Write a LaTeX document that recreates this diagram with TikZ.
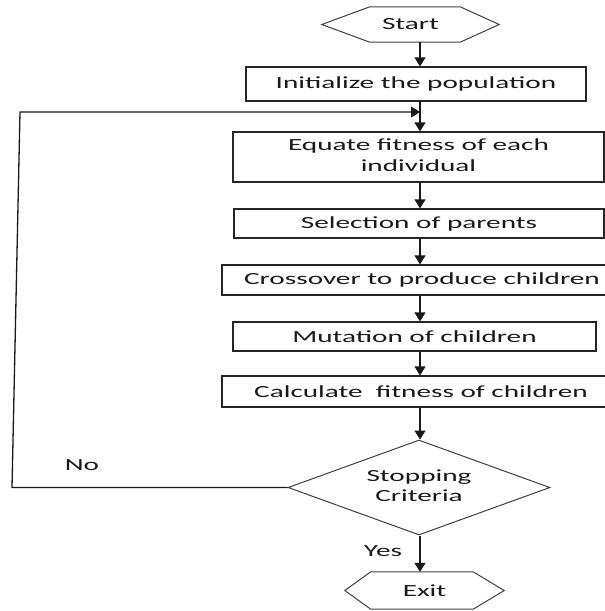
\documentclass[tikz,border=0pt]{standalone}
\usepackage{fontspec}
\usepackage{graphicx}
\setmainfont{Carlito}
\usetikzlibrary{shapes.geometric,arrows.meta}
\newcommand\wtext[1]{\scalebox{1.72}[1]{#1}}
\begin{document}
\begin{tikzpicture}[x=1pt,y=1pt,
  every node/.style={font=\fontsize{17}{20.7}\selectfont, text=black!90},
  procbox/.style={draw=black!85, line width=1.2pt, rectangle, inner sep=0pt},
  decbox/.style={draw=black!75, line width=1pt, diamond, aspect=2.76, inner sep=0pt, minimum width=262pt, minimum height=95pt},
  termbox/.style={inner sep=0pt},
  hexline/.style={draw=black!75, line width=1pt},
  arr/.style={line width=1.3pt, draw=black!90, -{Triangle[width=11pt,length=9pt]}},
  loopline/.style={line width=1.3pt, draw=black!90}
]
\useasboundingbox (0,0) rectangle (605,-611);
\coordinate (spine) at (420,0);

% terminals
\node[termbox, minimum width=177pt, minimum height=35pt] (start) at (410.5,-24.5) {\wtext{Start}};
\draw[hexline] (start.west) -- ([xshift=48pt]start.north west) -- ([xshift=-39pt]start.north east) -- (start.east) -- ([xshift=-39pt]start.south east) -- ([xshift=48pt]start.south west) -- cycle;

\node[procbox, minimum width=340pt, minimum height=34pt] (init) at (416,-84) {\wtext{Initialize the population}};
\node[procbox, minimum width=371pt, minimum height=50pt] (equate) at (418.5,-157) {\wtext{\begin{tabular}{@{}c@{}}Equate fitness of each\\individual\end{tabular}}};
\node[procbox, minimum width=370pt, minimum height=29pt] (select) at (419,-223.5) {\wtext{Selection of parents}};
\node[procbox, minimum width=400pt, minimum height=30pt] (cross) at (422,-280) {\wtext{Crossover to produce children}};
\node[procbox, minimum width=363pt, minimum height=29pt] (mut) at (414.5,-336.5) {\wtext{Mutation of children}};
\node[procbox, minimum width=398pt, minimum height=31pt] (calc) at (421,-391.5) {\wtext{Calculate\ \ fitness of children}};
\node[decbox] (dec) at (419,-487.5) {\wtext{\begin{tabular}{@{}c@{}}Stopping\\Criteria\end{tabular}}};

\node[termbox, minimum width=159pt, minimum height=37pt] (exit) at (424.5,-590.5) {\wtext{Exit}};
\draw[hexline] (exit.west) -- ([xshift=26pt]exit.north west) -- ([xshift=-31pt]exit.north east) -- (exit.east) -- ([xshift=-31pt]exit.south east) -- ([xshift=26pt]exit.south west) -- cycle;

% connectors
\draw[arr] (start.south -| spine) -- (init.north -| spine);
\draw[arr] (init.south -| spine) -- (equate.north -| spine);
\draw[arr] (equate.south -| spine) -- (select.north -| spine);
\draw[arr] (select.south -| spine) -- (cross.north -| spine);
\draw[arr] (cross.south -| spine) -- (mut.north -| spine);
\draw[arr] (mut.south -| spine) -- (calc.north -| spine);
\draw[arr] (calc.south -| spine) -- (dec.north -| spine);
\draw[arr] (dec.south -| spine) -- (exit.north -| spine);

% loop back
\coordinate (lb) at (12,-487.5);
\coordinate (lt) at (20,-112);
\coordinate (join) at (420,-112);
\draw[arr] (dec.west) -- (lb) -- (lt) -- (join);

% labels
\node (no) at (82,-465) {\wtext{No}};
\node (yes) at (383,-551) {\wtext{Yes}};
\end{tikzpicture}
\end{document}
